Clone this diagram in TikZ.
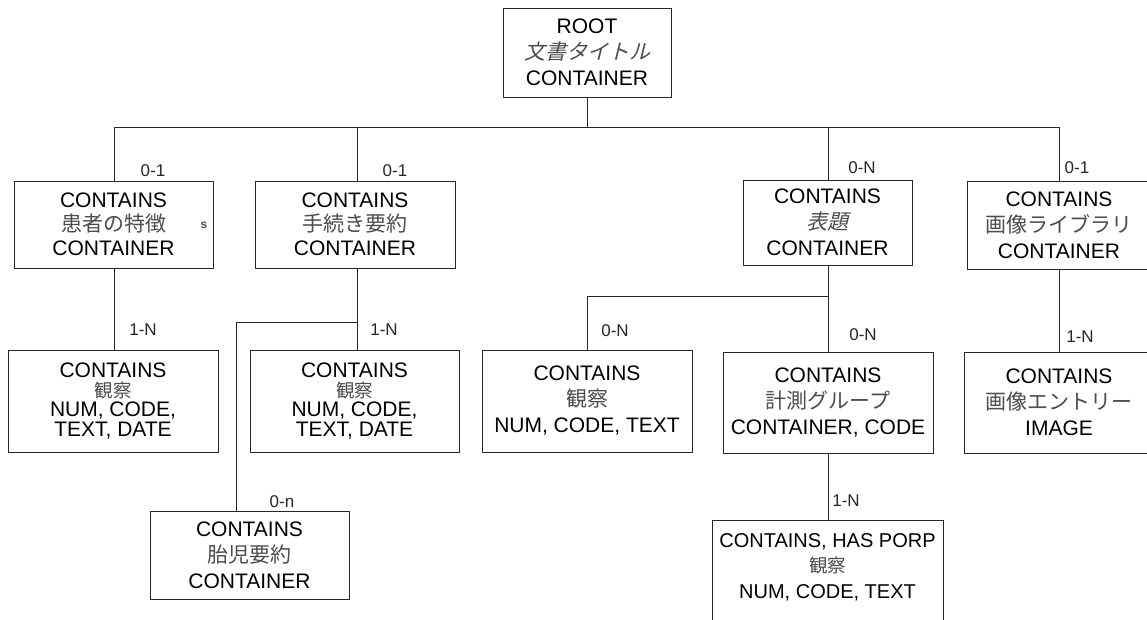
\documentclass[tikz,border=0pt]{standalone}
\usepackage{fontspec}
\setmainfont{Liberation Sans}
\newfontfamily\cjk{Noto Sans CJK JP}
\newfontfamily\cjkit[FakeSlant=0.25]{Noto Sans CJK JP}
\newcommand\jp[1]{{\color{black!70}\cjk #1}}
\newcommand\jpit[1]{{\color{black!70}\cjkit #1}}
\newcommand\jps[1]{{\color{black!70}\cjk\fontsize{18.5}{18}\selectfont #1}}
\newcommand\fc{,\ }
\begin{document}
\begin{tikzpicture}[x=1pt,y=-1pt,
  box/.style={draw=black!85, line width=1pt, fill=white, inner sep=0pt, align=center,
              font=\fontsize{21}{26}\selectfont},
  tight/.style={font=\fontsize{21}{24}\selectfont},
  tighter/.style={font=\fontsize{21}{19.5}\selectfont},
  lbl/.style={font=\fontsize{17}{19}\selectfont, text=black!85, inner sep=0pt},
  conn/.style={draw=black!85, line width=1pt}]
\useasboundingbox (0,0) rectangle (1147,619);

% boxes
\node[box, minimum width=168pt, minimum height=89pt] (root) at (587,52.5)
  {ROOT\\\jpit{文書タイトル}\\CONTAINER};
\node[box, tight, minimum width=199pt, minimum height=87pt] (b1) at (113.5,224.5)
  {CONTAINS\\\jp{患者の特徴}\\CONTAINER};
\node[box, tight, minimum width=200pt, minimum height=87pt] (b2) at (355,224.5)
  {CONTAINS\\\jp{手続き要約}\\CONTAINER};
\node[box, minimum width=169pt, minimum height=85pt] (b6) at (827.5,222.5)
  {CONTAINS\\\jpit{表題}\\CONTAINER};
\node[box, minimum width=184pt, minimum height=88pt] (b9) at (1059,225)
  {CONTAINS\\\jp{画像ライブラリ}\\CONTAINER};
\node[box, tighter, minimum width=210pt, minimum height=102pt] (b3) at (113,401)
  {CONTAINS\\\jps{観察}\\NUM\fc CODE,\\TEXT\fc DATE};
\node[box, tighter, minimum width=209pt, minimum height=102pt] (b4) at (354.5,401)
  {CONTAINS\\\jps{観察}\\NUM\fc CODE,\\TEXT\fc DATE};
\node[box, minimum width=210pt, minimum height=102pt] (b7) at (587,401)
  {CONTAINS\\\jp{観察}\\NUM\fc CODE\fc TEXT};
\node[box, minimum width=210pt, minimum height=101pt] (b8) at (828,402.5)
  {CONTAINS\\\jp{計測グループ}\\CONTAINER\fc CODE};
\node[box, minimum width=190pt, minimum height=101pt] (b10) at (1059,402.5)
  {CONTAINS\\\jp{画像エントリー}\\IMAGE};
\node[box, minimum width=199pt, minimum height=88pt] (b5) at (249.5,555)
  {CONTAINS\\\jp{胎児要約}\\CONTAINER};
\node[box, minimum width=231pt, minimum height=140pt] (b11) at (827.5,590) {};
\node[align=center, inner sep=0pt, font=\fontsize{20}{25.5}\selectfont] (b11t) at (827.5,567)
  {CONTAINS\fc HAS PORP\\\jps{観察}\\NUM\fc CODE\fc TEXT};

% stray glyph
\node[inner sep=0pt, font=\fontsize{12}{12}\selectfont\bfseries, text=black!70] (stray) at (204,225) {s};

% junction coordinates
\coordinate (bus) at (587,127);
\coordinate (x1) at (114,127);
\coordinate (x2) at (357,127);
\coordinate (x6) at (828,127);
\coordinate (x9) at (1059,127);
\coordinate (j2) at (357,322);
\coordinate (j5) at (236,322);
\coordinate (j6) at (828,296);
\coordinate (j7) at (587,296);

% connectors
\draw[conn] (root.south) -- (bus);
\draw[conn] (x1) -- (x9);
\draw[conn] (x1) -- (x1 |- b1.north);
\draw[conn] (x2) -- (x2 |- b2.north);
\draw[conn] (x6) -- (x6 |- b6.north);
\draw[conn] (x9) -- (x9 |- b9.north);
\draw[conn] (x1 |- b1.south) -- (x1 |- b3.north);
\draw[conn] (x2 |- b2.south) -- (x2 |- b4.north);
\draw[conn] (j2) -- (j5) -- (j5 |- b5.north);
\draw[conn] (x6 |- b6.south) -- (x6 |- b8.north);
\draw[conn] (j6) -- (j7) -- (j7 |- b7.north);
\draw[conn] (x6 |- b8.south) -- (x6 |- b11.north);
\draw[conn] (x9 |- b9.south) -- (x9 |- b10.north);

% labels
\node[lbl] (l1) at (153,171) {0-1};
\node[lbl] (l2) at (395,171) {0-1};
\node[lbl] (l6) at (862,168) {0-N};
\node[lbl] (l9) at (1077,168) {0-1};
\node[lbl] (l3) at (143,330) {1-N};
\node[lbl] (l4) at (384,330) {1-N};
\node[lbl] (l5) at (282,502) {0-n};
\node[lbl] (l7) at (615,331) {0-N};
\node[lbl] (l8) at (863,335) {0-N};
\node[lbl] (l10) at (1080,337) {1-N};
\node[lbl] (l11) at (846,501) {1-N};
\end{tikzpicture}
\end{document}
